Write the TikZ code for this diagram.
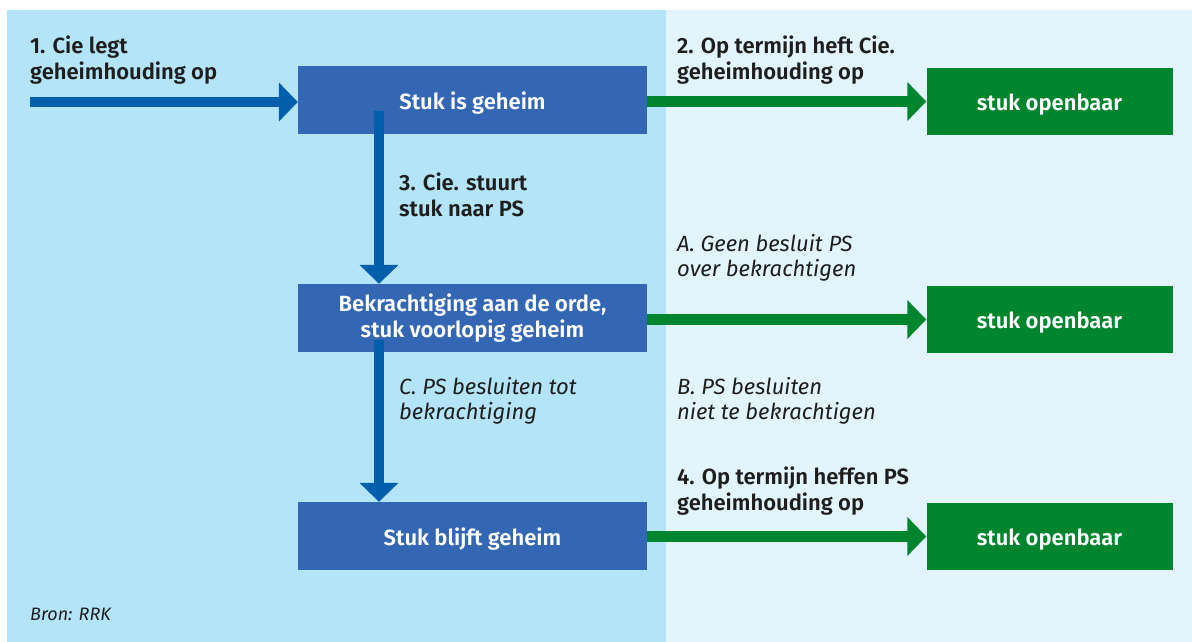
\documentclass[tikz,border=0pt]{standalone}
\usepackage{fontspec}
\setmainfont{Fira Sans}[BoldFont={Fira Sans SemiBold}]
\usetikzlibrary{arrows.meta,calc}
\definecolor{panelL}{HTML}{B3E4F7}
\definecolor{panelR}{HTML}{E3F5FC}
\definecolor{boxblue}{HTML}{3366B3}
\definecolor{arrblue}{HTML}{005FAD}
\definecolor{grn}{HTML}{00852F}
\definecolor{txt}{HTML}{1E1E1E}
\tikzset{
  bluebox/.style={fill=boxblue, draw=none, minimum width=349pt, minimum height=68pt, inner sep=0pt,
    text=white, align=center, font=\fontsize{22}{26}\selectfont\bfseries,
    execute at begin node={\rule{0pt}{23pt}}},
  greenbox/.style={fill=grn, draw=none, minimum width=246pt, minimum height=67pt, inner sep=0pt,
    text=white, align=center, font=\fontsize{22}{26}\selectfont\bfseries,
    execute at begin node={\rule{0pt}{23pt}}},
  lbl/.style={anchor=north west, inner sep=0pt, align=left, text=txt, font=\fontsize{22}{25.5}\selectfont\bfseries},
  ilbl/.style={anchor=north west, inner sep=0pt, align=left, text=txt, font=\fontsize{22}{25.5}\selectfont\itshape},
  barrow/.style={draw=arrblue, line width=10.5pt, -{Triangle[width=38pt,length=19pt]}},
  garrow/.style={draw=grn, line width=10.5pt, -{Triangle[width=38pt,length=19pt]}},
}
\begin{document}
\begin{tikzpicture}[x=1pt,y=-1pt]
\useasboundingbox (0,0) rectangle (1192,642);
\fill[white] (0,0) rectangle (1192,642);
\fill[panelL] (7,10) rectangle (666,642);
\fill[panelR] (666,10) rectangle (1192,642);

\node[bluebox] (b1) at (472.5,100) {Stuk is geheim};
\node[bluebox] (b2) at (472.5,318) {Bekrachtiging aan de orde,\\stuk voorlopig geheim};
\node[bluebox] (b3) at (472.5,536) {Stuk blijft geheim};

\node[greenbox] (g1) at (1049.5,101.5) {stuk openbaar};
\node[greenbox] (g2) at (1049.5,319.5) {stuk openbaar};
\node[greenbox] (g3) at (1049.5,536.5) {stuk openbaar};

\coordinate (start) at (30,102);
\coordinate (v1) at (379,111);
\coordinate (v2) at (379,340);

\draw[barrow] (start) -- (start -| b1.west);
\draw[barrow] (v1) -- (v1 |- b2.north);
\draw[barrow] (v2) -- (v2 |- b3.north);

\draw[garrow] (g1.west -| b1.east) -- (g1.west);
\draw[garrow] (g2.west -| b2.east) -- (g2.west);
\draw[garrow] (g3.west -| b3.east) -- (g3.west);

\node[lbl] (t1) at (30,36) {1. Cie legt\\geheimhouding op};
\node[lbl] (t2) at (677,36) {2. Op termijn heft Cie.\\geheimhouding op};
\node[lbl] (t3) at (399,173) {3. Cie. stuurt\\stuk naar PS};
\node[ilbl] (tA) at (677,234) {A. Geen besluit PS\\over bekrachtigen};
\node[ilbl] (tC) at (399,377) {C. PS besluiten tot\\bekrachtiging};
\node[ilbl] (tB) at (677,377) {B. PS besluiten\\niet te bekrachtigen};
\node[lbl] (t4) at (677,467) {4. Op termijn heffen PS\\geheimhouding op};
\node[anchor=north west, inner sep=0pt, text=txt, font=\fontsize{18}{21}\selectfont\itshape] (src) at (30,608) {Bron: RRK};
\end{tikzpicture}
\end{document}
